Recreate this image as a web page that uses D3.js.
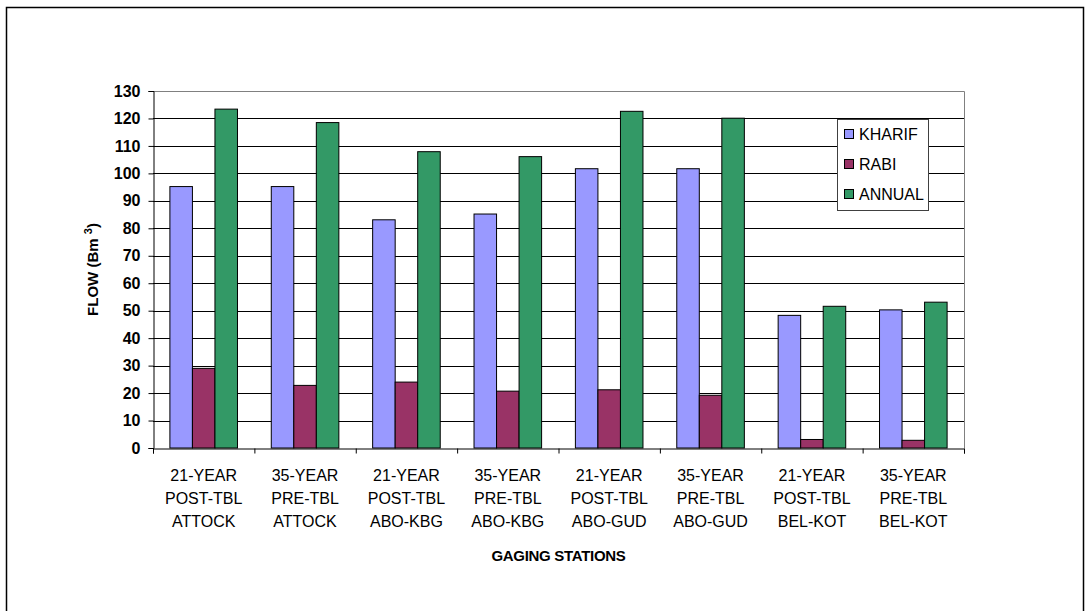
<!DOCTYPE html>
<html>
<head>
<meta charset="utf-8">
<script src="https://cdn.jsdelivr.net/npm/d3@7"></script>
<style>
  body { margin: 0; background: #fff; }
  svg { font-family: "Liberation Sans", Arial, sans-serif; }
</style>
</head>
<body>
<svg id="chart" width="1086" height="611"></svg>
<script>
// data
var periods = ['21-YEAR', '35-YEAR', '21-YEAR', '35-YEAR', '21-YEAR', '35-YEAR', '21-YEAR', '35-YEAR'];
var types = ['POST-TBL', 'PRE-TBL', 'POST-TBL', 'PRE-TBL', 'POST-TBL', 'PRE-TBL', 'POST-TBL', 'PRE-TBL'];
var stations = ['ATTOCK', 'ATTOCK', 'ABO-KBG', 'ABO-KBG', 'ABO-GUD', 'ABO-GUD', 'BEL-KOT', 'BEL-KOT'];

var seriesNames = ['KHARIF', 'RABI', 'ANNUAL'];
var kharif = [95.2, 95.2, 83.1, 85.2, 101.7, 101.7, 48.3, 50.3];
var rabi = [29.0, 22.8, 24.0, 20.7, 21.2, 19.2, 3.1, 2.8];
var annual = [123.4, 118.5, 107.9, 106.1, 122.6, 120.1, 51.6, 53.1];
var yTicks = [0, 10, 20, 30, 40, 50, 60, 70, 80, 90, 100, 110, 120, 130];

var colors = {KHARIF: '#9999ff', RABI: '#993366', ANNUAL: '#339966'};

window.onload = function() {

	var svg = d3.select('#chart');

	// plot area in pixels
	var left = 153, right = 964, top = 91, bottom = 448;

	var categories = periods.map(function(p, i) { return i; });
	var values = {KHARIF: kharif, RABI: rabi, ANNUAL: annual};

	// outer frame
	svg.append('rect')
		.attr('x', 6.5).attr('y', 7.5)
		.attr('width', 1077).attr('height', 610)
		.attr('fill', 'none')
		.attr('stroke', '#000')
		.attr('stroke-width', 1.5);

	var x0 = d3.scaleBand().domain(categories).range([left, right]).padding(0);
	var x1 = d3.scaleBand().domain(seriesNames).range([0, x0.bandwidth()])
		.paddingInner(0).paddingOuter(0.75);
	var y = d3.scaleLinear().domain([0, 130]).range([bottom, top]);

	// gridlines
	svg.append('g')
		.selectAll('line')
		.data(yTicks.slice(1, -1))
		.enter().append('line')
		.attr('x1', left).attr('x2', right)
		.attr('y1', function(d) { return Math.round(y(d)) + 0.5; })
		.attr('y2', function(d) { return Math.round(y(d)) + 0.5; })
		.attr('stroke', '#000');

	// plot border (top and right in grey)
	svg.append('path')
		.attr('d', 'M' + left + ',' + (top + 0.5) + 'H' + (right + 0.5) + 'V' + bottom)
		.attr('fill', 'none')
		.attr('stroke', '#808080');

	// bars
	var group = svg.append('g').selectAll('g')
		.data(categories)
		.enter().append('g')
		.attr('transform', function(d) { return 'translate(' + x0(d) + ',0)'; });

	group.selectAll('rect')
		.data(function(c) {
			return seriesNames.map(function(s) { return {key: s, value: values[s][c]}; });
		})
		.enter().append('rect')
		.attr('x', function(d) { return x1(d.key); })
		.attr('y', function(d) { return y(d.value); })
		.attr('width', x1.bandwidth())
		.attr('height', function(d) { return bottom - y(d.value); })
		.attr('fill', function(d) { return colors[d.key]; })
		.attr('stroke', '#000')
		.attr('stroke-width', 1);

	// y axis
	var yAxis = d3.axisLeft(y).tickValues(yTicks).tickSize(5).tickPadding(8);
	var gy = svg.append('g')
		.attr('transform', 'translate(' + (left + 0.5) + ',0)')
		.call(yAxis);
	gy.select('.domain').attr('stroke', '#000');
	gy.selectAll('.tick line').attr('stroke', '#000');
	gy.selectAll('.tick text')
		.attr('fill', '#000')
		.style('font-size', '16px')
		.style('font-weight', 'bold')
		.style('font-family', '"Liberation Sans", Arial, sans-serif');

	// x axis with ticks between categories
	var xEdges = d3.scaleLinear().domain([0, categories.length]).range([left, right]);
	var xAxis = d3.axisBottom(xEdges).tickValues(d3.range(0, categories.length + 1))
		.tickSize(5).tickFormat('');
	var gx = svg.append('g')
		.attr('transform', 'translate(0,' + (bottom + 0.5) + ')')
		.call(xAxis);
	gx.select('.domain').attr('stroke', '#000');
	gx.selectAll('.tick line').attr('stroke', '#000');

	// category labels
	var labels = svg.append('g').selectAll('text')
		.data(categories)
		.enter().append('text')
		.attr('text-anchor', 'middle')
		.style('font-size', '16px')
		.attr('fill', '#000');
	[periods, types, stations].forEach(function(lines, k) {
		labels.append('tspan')
			.attr('x', function(d) { return x0(d) + x0.bandwidth() / 2; })
			.attr('y', 481 + k * 23)
			.text(function(d) { return lines[d]; });
	});

	// axis titles
	svg.append('text')
		.attr('x', (left + right) / 2)
		.attr('y', 561)
		.attr('text-anchor', 'middle')
		.style('font-size', '15px')
		.style('font-weight', 'bold')
		.style('letter-spacing', '-0.3px')
		.text('GAGING STATIONS');

	var yt = svg.append('text')
		.attr('transform', 'translate(98,' + ((top + bottom) / 2) + ') rotate(-90)')
		.attr('text-anchor', 'middle')
		.style('font-size', '15px')
		.style('font-weight', 'bold');
	yt.append('tspan').text('FLOW (Bm ');
	yt.append('tspan').attr('dy', -6).style('font-size', '11px').text('3');
	yt.append('tspan').attr('dy', 6).text(')');

	// legend
	var legend = svg.append('g');
	legend.append('rect')
		.attr('x', 837.5).attr('y', 119.5)
		.attr('width', 91).attr('height', 91)
		.attr('fill', '#fff')
		.attr('stroke', '#404040');

	var item = legend.selectAll('g.item')
		.data(seriesNames)
		.enter().append('g')
		.attr('class', 'item')
		.attr('transform', function(d, i) { return 'translate(0,' + (134 + i * 30) + ')'; });
	item.append('rect')
		.attr('x', 844.5).attr('y', -4.5)
		.attr('width', 9).attr('height', 9)
		.attr('fill', function(d) { return colors[d]; })
		.attr('stroke', '#000');
	item.append('text')
		.attr('x', 859).attr('y', 6)
		.style('font-size', '16px')
		.text(function(d) { return d; });
};
</script>
</body>
</html>
